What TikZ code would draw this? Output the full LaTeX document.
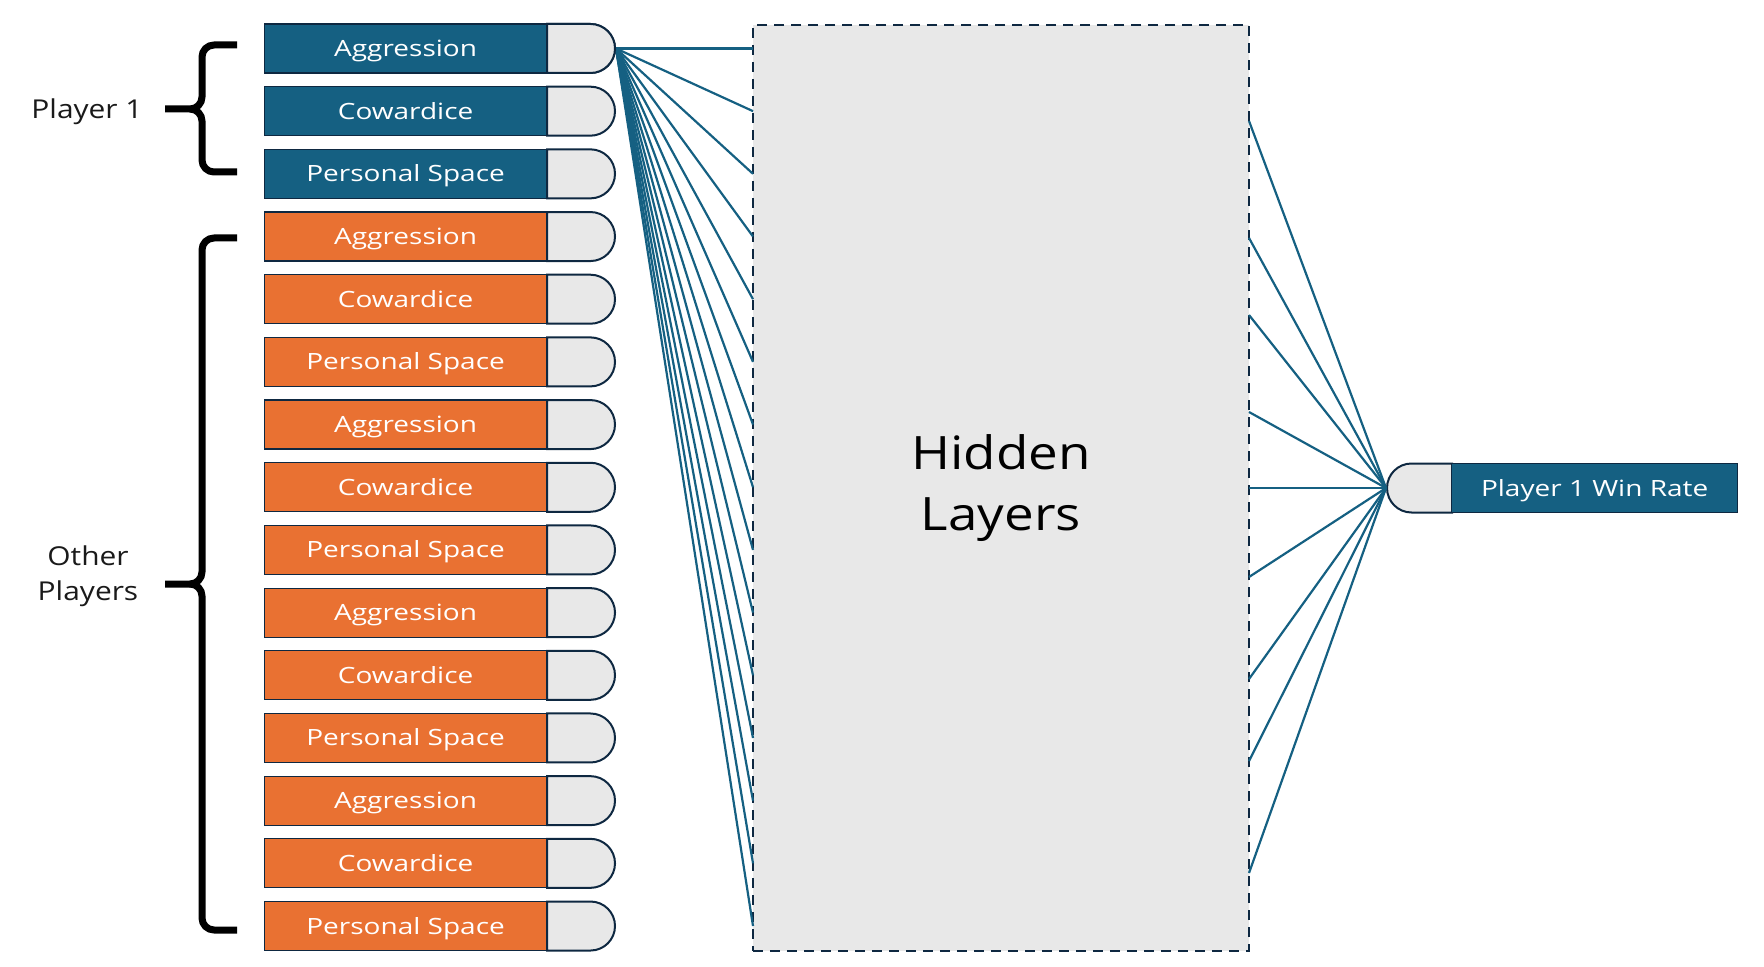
\documentclass[tikz,border=0pt]{standalone}
\usepackage{fontspec}
\setmainfont{Open Sans}[FakeStretch=1.15]
\newfontfamily\boxfont{Open Sans}[FakeStretch=1.25]
\usetikzlibrary{shapes.misc}
\definecolor{acc1}{HTML}{156082}
\definecolor{acc2}{HTML}{E97132}
\definecolor{dk}{HTML}{0E2841}
\definecolor{lgray}{HTML}{E8E8E8}
\definecolor{ink}{HTML}{1A1A1A}
\begin{document}
\begin{tikzpicture}[x=0.5pt,y=-0.5pt,
  feat/.style={rectangle, draw=dk, line width=0.6pt, minimum width=141pt, minimum height=24.5pt, inner sep=0pt, text height=8pt, text depth=0pt, text=white, font=\boxfont\fontsize{11.2}{13}\selectfont, anchor=west},
  pone/.style={feat, fill=acc1},
  pother/.style={feat, fill=acc2},
  capw/.style={rounded rectangle, rounded rectangle west arc=none, draw=dk, fill=lgray, line width=1pt, minimum width=34pt, minimum height=24.5pt, inner sep=0pt, anchor=west},
  cape/.style={rounded rectangle, rounded rectangle east arc=none, draw=dk, fill=lgray, line width=1pt, minimum width=32.5pt, minimum height=24.5pt, inner sep=0pt, anchor=west},
  wire/.style={draw=acc1, line width=1.1pt},
  bracestroke/.style={draw=black, line width=3.5pt, line cap=butt, line join=round},
  lbl/.style={text=ink, font=\fontsize{13}{17.5}\selectfont, align=center, inner sep=0pt}
]
\useasboundingbox (0,0) rectangle (1764,967);

% hidden layers box
\node[rectangle, fill=lgray, draw=dk, dashed, dash pattern=on 5pt off 3.5pt, line width=1.3pt,
      minimum width=248pt, minimum height=463pt, inner sep=0pt, align=center,
      font=\fontsize{23}{30.5}\selectfont, text=black] (H) at (1001,488) {Hidden\\Layers};

% left-edge and right-edge contact points
\foreach \i in {1,...,15} {
  \coordinate (hl\i) at (753,{48.5+(\i-1)*62.68});
}
\foreach \y [count=\j] in {121,238,315,412,488,577,679,761,873} {
  \coordinate (hr\j) at (1249,\y);
}

% output node
\node[cape] (outcap) at (1386,488) {};
\node[feat, fill=acc1, minimum width=143pt] (out) at (1451,488) {Player 1 Win Rate};

% right wires
\foreach \j in {1,...,9} {
  \draw[wire] (hr\j) -- (outcap.west);
}

% input feature boxes
\foreach \lab [count=\i] in {Aggression,Cowardice,Personal Space,Aggression,Cowardice,Personal Space,Aggression,Cowardice,Personal Space,Aggression,Cowardice,Personal Space,Aggression,Cowardice,Personal Space} {
  \pgfmathsetmacro{\yy}{48.5+(\i-1)*62.68}
  \ifnum\i<4
    \node[pone] (f\i) at (264,\yy) {\lab};
  \else
    \node[pother] (f\i) at (264,\yy) {\lab};
  \fi
  \node[capw] (c\i) at (546,\yy) {};
}

% left wires
\foreach \i in {1,...,15} {
  \draw[wire] (c1.east) -- (hl\i);
}
\node[capw] at (546,48.5) {};

% braces
\draw[bracestroke] (237,45) -- (214,45) to[out=180,in=90] (202,57) -- (202,97)
  to[out=-90,in=0] (190,109) -- (165,109);
\draw[bracestroke] (190,109) to[out=0,in=90] (202,121) -- (202,160)
  to[out=-90,in=180] (214,172) -- (237,172);

\draw[bracestroke] (237,238) -- (214,238) to[out=180,in=90] (202,250) -- (202,572)
  to[out=-90,in=0] (190,584) -- (165,584);
\draw[bracestroke] (190,584) to[out=0,in=90] (202,596) -- (202,918)
  to[out=-90,in=180] (214,930) -- (237,930);

% group labels
\node[lbl] (lp1) at (87,112) {Player 1};
\node[lbl] (lop) at (88,576) {Other\\Players};
\end{tikzpicture}
\end{document}
